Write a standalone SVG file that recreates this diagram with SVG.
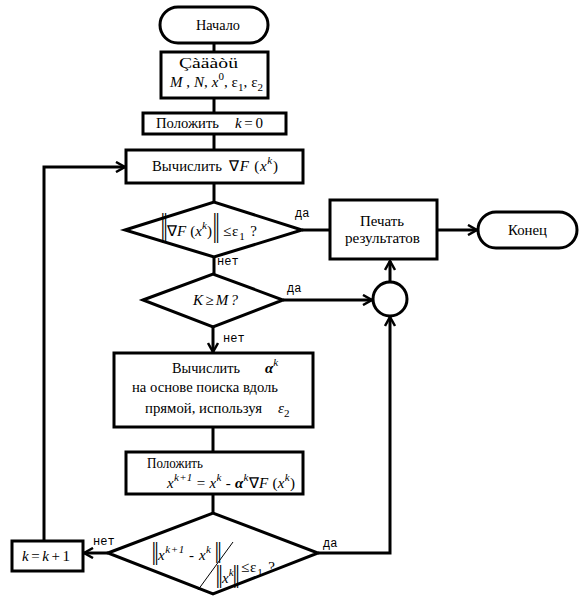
<svg xmlns="http://www.w3.org/2000/svg" width="579" height="602" viewBox="0 0 579 602">
<style>
.s{fill:#fff;stroke:#000;stroke-width:3}
.c line,.c polyline{stroke:#000;stroke-width:3;fill:none}
.t{font-family:"Liberation Serif","Times New Roman",serif;font-size:15px;fill:#000}
.i{font-style:italic}
.b{font-weight:bold}
.y{font-family:"Liberation Mono","DejaVu Sans Mono",monospace;font-size:12px;fill:#000}
.u{font-size:11px}
.n{font-family:"Liberation Sans",Arial,sans-serif;font-size:14px;fill:#000;letter-spacing:-1px}
</style>
<defs>
<marker id="a" markerWidth="12" markerHeight="12" refX="10" refY="6" orient="auto" markerUnits="userSpaceOnUse">
<path d="M1,1 L10,6 L1,11" fill="none" stroke="#000" stroke-width="2.5"/>
</marker>
</defs>
<rect width="579" height="602" fill="#fff"/>
<g class="c" id="connectors">
<line x1="214" y1="43" x2="214" y2="52"/>
<line x1="214" y1="98" x2="214" y2="113"/>
<line x1="214" y1="134" x2="214" y2="150"/>
<line x1="214" y1="183" x2="214" y2="202"/>
<line x1="302" y1="230" x2="330" y2="230"/>
<line x1="437" y1="230" x2="477" y2="230" marker-end="url(#a)"/>
<line x1="214" y1="257" x2="214" y2="274"/>
<line x1="283" y1="300" x2="372" y2="300" marker-end="url(#a)"/>
<line x1="390" y1="282" x2="390" y2="261" marker-end="url(#a)"/>
<line x1="213" y1="327" x2="213" y2="352" marker-end="url(#a)"/>
<line x1="213" y1="427" x2="213" y2="452"/>
<line x1="213" y1="494" x2="213" y2="513"/>
<polyline points="318,553 390,553 390,317" marker-end="url(#a)"/>
<line x1="108" y1="553" x2="84" y2="553" marker-end="url(#a)"/>
<polyline points="44,541 44,167 125,167" marker-end="url(#a)"/>
</g>
<g id="start"><rect class="s" x="160" y="7" width="108" height="36" rx="18"/><text class="t" x="196" y="30" textLength="44" lengthAdjust="spacingAndGlyphs">Начало</text></g>
<g id="input"><rect class="s" x="161" y="52" width="107" height="46"/>
<text class="t" x="179" y="68" textLength="59" lengthAdjust="spacingAndGlyphs">Çàäàòü</text>
<text class="t" x="170" y="87" textLength="93"><tspan class="i">M</tspan> , <tspan class="i">N</tspan>, <tspan class="i">x</tspan><tspan class="u" dy="-7">0</tspan><tspan dy="7">, ε</tspan><tspan class="u" dy="4">1</tspan><tspan dy="-4">, ε</tspan><tspan class="u" dy="4">2</tspan></text></g>
<g id="init"><rect class="s" x="143" y="113" width="143" height="21"/>
<text class="t" x="156" y="128" textLength="63" lengthAdjust="spacingAndGlyphs">Положить</text><text class="t" x="235" y="128" textLength="28"><tspan class="i">k</tspan> = 0</text></g>
<g id="grad"><rect class="s" x="126" y="150" width="177" height="33"/>
<text class="t" x="152" y="171" textLength="70" lengthAdjust="spacingAndGlyphs">Вычислить</text><text class="t" x="229" y="171" textLength="49">∇<tspan class="i">F</tspan> (<tspan class="i">x</tspan><tspan class="u i" dy="-7">k</tspan><tspan dy="7">)</tspan></text></g>
<g id="check1"><polygon class="s" points="125,230 214,202 302,230 214,257"/>
<text class="n" transform="translate(161,235.5) scale(1,2.2)">||</text>
<text class="t" x="167" y="236" textLength="45">∇<tspan class="i">F</tspan> (<tspan class="i">x</tspan><tspan class="u i" dy="-7">k</tspan><tspan dy="7">)</tspan></text>
<text class="n" transform="translate(213,235.5) scale(1,2.2)">||</text>
<text class="t" x="223" y="236" textLength="34">≤ε<tspan class="u" dy="4">1</tspan><tspan dy="-4"> ?</tspan></text>
<text class="y" x="295" y="217">да</text><text class="y" x="217" y="265">нет</text></g>
<g id="print"><rect class="s" x="330" y="200" width="107" height="59"/>
<text class="t" x="360" y="226" textLength="44" lengthAdjust="spacingAndGlyphs">Печать</text><text class="t" x="345" y="243" textLength="75" lengthAdjust="spacingAndGlyphs">результатов</text></g>
<g id="end"><rect class="s" x="478" y="212" width="99" height="36" rx="18"/><text class="t" x="508" y="235" textLength="39" lengthAdjust="spacingAndGlyphs">Конец</text></g>
<g id="check2"><polygon class="s" points="143,300 213,274 283,300 213,327"/>
<text class="t i" x="193" y="305" textLength="45">K≥M?</text>
<text class="y" x="287" y="292">да</text><text class="y" x="223" y="342">нет</text></g>
<g id="join"><circle class="s" cx="390" cy="299" r="17"/></g>
<g id="alpha"><rect class="s" x="114" y="353" width="199" height="74"/>
<text class="t" x="172" y="373" textLength="68" lengthAdjust="spacingAndGlyphs">Вычислить</text><text class="t" x="265" y="373"><tspan class="i b">α</tspan><tspan class="u i" dy="-7">k</tspan></text>
<text class="t" x="132" y="392" textLength="146" lengthAdjust="spacingAndGlyphs">на основе поиска вдоль</text>
<text class="t" x="145" y="413" textLength="117" lengthAdjust="spacingAndGlyphs">прямой, используя</text><text class="t" x="278" y="413"><tspan class="i">ε</tspan><tspan class="u" dy="4">2</tspan></text></g>
<g id="update"><rect class="s" x="126" y="452" width="177" height="42"/>
<text class="t" x="147" y="468" textLength="56" lengthAdjust="spacingAndGlyphs">Положить</text>
<text class="t" x="167" y="488" textLength="128"><tspan class="i">x</tspan><tspan class="u i" dy="-7">k+1</tspan><tspan dy="7"> = </tspan><tspan class="i">x</tspan><tspan class="u i" dy="-7">k</tspan><tspan dy="7"> - </tspan><tspan class="i b">α</tspan><tspan class="u i" dy="-7">k</tspan><tspan dy="7">∇</tspan><tspan class="i">F</tspan> (<tspan class="i">x</tspan><tspan class="u i" dy="-7">k</tspan><tspan dy="7">)</tspan></text></g>
<g id="check3"><polygon class="s" points="108,553 213,513 318,553 213,594"/>
<text class="n" transform="translate(152,560) scale(1,1.75)">||</text>
<text class="t" x="158" y="560" textLength="53"><tspan class="i">x</tspan><tspan class="u i" dy="-7">k+1</tspan><tspan dy="7"> - </tspan><tspan class="i">x</tspan><tspan class="u i" dy="-7">k</tspan></text>
<text class="n" transform="translate(215,558) scale(1,1.6)">||</text>
<line x1="233" y1="542" x2="198" y2="590" stroke="#000" stroke-width="1"/>
<text class="n" transform="translate(216,583) scale(1,1.7)">||</text>
<text class="t" x="222" y="583"><tspan class="i">x</tspan><tspan class="u i" dy="-7">k</tspan></text>
<text class="n" transform="translate(233,583) scale(1,1.7)">||</text>
<text class="t" x="241" y="572" textLength="34">≤ε<tspan class="u" dy="4">1</tspan><tspan dy="-4"> ?</tspan></text>
<text class="y" x="323" y="547">да</text><text class="y" x="93" y="545">нет</text></g>
<g id="incr"><rect class="s" x="12" y="541" width="71" height="30"/>
<text class="t" x="22" y="561" textLength="48"><tspan class="i">k</tspan> = <tspan class="i">k</tspan> + 1</text></g>
</svg>
